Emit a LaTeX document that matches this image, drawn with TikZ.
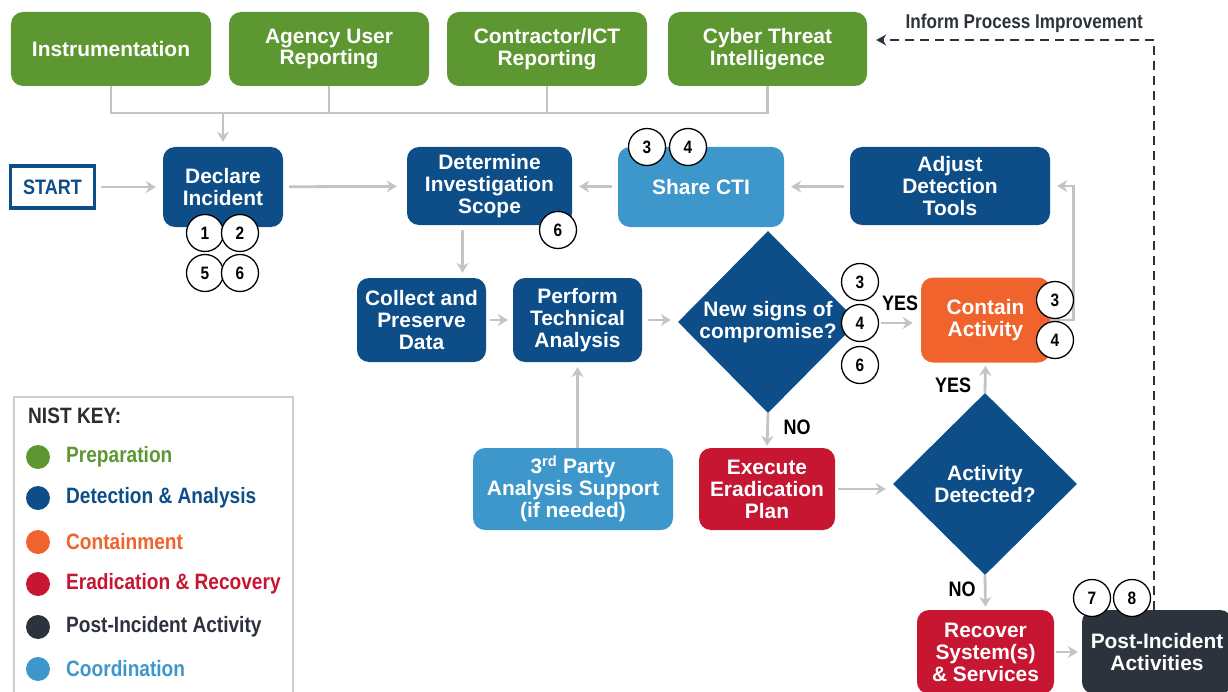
\documentclass[tikz,border=0pt]{standalone}
\usepackage{fontspec}
\setmainfont{Liberation Sans}
\newfontfamily\condbold{Liberation Sans Bold}[FakeStretch=0.86]
\usetikzlibrary{shapes.geometric,arrows.meta}
\definecolor{pgreen}{RGB}{93,151,50}
\definecolor{dblue}{RGB}{13,78,137}
\definecolor{lblue}{RGB}{62,151,202}
\definecolor{orng}{RGB}{240,99,45}
\definecolor{ered}{RGB}{198,22,50}
\definecolor{pdark}{RGB}{44,51,61}
\definecolor{conng}{RGB}{196,196,196}
\definecolor{keyborder}{RGB}{205,205,205}
\definecolor{keytext}{RGB}{45,45,45}
\newcommand\boxfnt{\bfseries\fontsize{21}{22}\selectfont}
\newcommand\condfnt{\condbold\fontsize{21}{21}\selectfont}
\newcommand\keyfnt{\condbold\fontsize{22.3}{22}\selectfont}
\begin{document}
\begin{tikzpicture}[x=1bp,y=-1bp,
  box/.style={rectangle, rounded corners=12bp, text=white, align=center, inner sep=0pt, font=\boxfnt},
  dia/.style={diamond, aspect=1, fill=dblue, text=white, align=center, inner sep=0pt, font=\boxfnt},
  num/.style={circle, draw=black, line width=1.3bp, fill=white, minimum size=37bp, inner sep=0pt, font=\condbold\fontsize{18}{18}\selectfont},
  lbl/.style={font=\condfnt, text=black, inner sep=0pt},
  conn/.style={draw=conng, line width=2.8bp},
  arr/.style={conn, -{Stealth[length=10bp,width=12bp]}, shorten >=7bp, shorten <=6bp},
  dashline/.style={draw=pdark, line width=2bp, dash pattern=on 9bp off 6bp, -{Stealth[length=10bp,width=11bp]}, shorten >=9bp},
  kdot/.style={circle, minimum size=24bp, inner sep=0pt},
  ktxt/.style={anchor=west, font=\keyfnt, inner sep=0pt}
]
\clip (0,0) rectangle (1228,692);
\useasboundingbox (0,0) rectangle (1228,692);
\fill[white] (0,0) rectangle (1228,692);

% Preparation inputs
\node[box, fill=pgreen, minimum width=200bp, minimum height=74bp] (inst) at (111,49) {Instrumentation};
\node[box, fill=pgreen, minimum width=200bp, minimum height=74bp] (agency) at (329,49) {Agency User\\Reporting};
\node[box, fill=pgreen, minimum width=200bp, minimum height=74bp] (contr) at (547,49) {Contractor/ICT\\Reporting};
\node[box, fill=pgreen, minimum width=199bp, minimum height=74bp] (cti) at (767.5,49) {Cyber Threat\\Intelligence};

% main flow
\node[draw=dblue, line width=3.5bp, fill=white, minimum width=84bp, minimum height=42bp, text=dblue, inner sep=0pt, font=\condfnt] (start) at (52.5,187) {START};
\node[box, fill=dblue, minimum width=120bp, minimum height=80bp] (declare) at (223,187) {Declare\\Incident};
\node[box, fill=dblue, minimum width=165bp, minimum height=78bp] (determine) at (489.5,186) {Determine\\Investigation\\Scope};
\node[box, fill=lblue, minimum width=166bp, minimum height=80bp] (share) at (701,187) {Share CTI};
\node[box, fill=dblue, minimum width=200bp, minimum height=78bp] (adjust) at (950,186) {Adjust\\Detection\\Tools};
\node[box, fill=dblue, minimum width=129bp, minimum height=84bp] (collect) at (421.5,320) {Collect and\\Preserve\\Data};
\node[box, fill=dblue, minimum width=129bp, minimum height=84bp] (perform) at (577.5,320) {Perform\\Technical\\Analysis};
\node[dia, minimum width=180bp, minimum height=182bp] (signs) at (768,322) {New signs of\\compromise?};
\node[box, fill=orng, minimum width=129bp, minimum height=85bp] (contain) at (985.5,320) {Contain\\Activity};
\node[box, fill=lblue, minimum width=200bp, minimum height=82bp] (third) at (573,489) {3\textsuperscript{rd} Party\\Analysis Support\\(if needed)};
\node[box, fill=ered, minimum width=136bp, minimum height=82bp] (execute) at (767,489) {Execute\\Eradication\\Plan};
\node[dia, minimum width=184bp, minimum height=182bp] (activity) at (985,484) {Activity\\Detected?};
\node[box, fill=ered, minimum width=137bp, minimum height=84bp] (recover) at (985.5,652) {Recover\\System(s)\\\& Services};
\node[box, fill=pdark, minimum width=150bp, minimum height=84bp] (post) at (1157,652) {Post-Incident\\Activities};

% connectors
\coordinate (bus) at (223,113);
\draw[conn] (inst.south) |- (cti.south |- bus) -- (cti.south);
\draw[conn] (agency.south) -- (agency.south |- bus);
\draw[conn] (contr.south) -- (contr.south |- bus);
\draw[arr, shorten <=0pt, shorten >=5bp] (bus) -- (declare.north);
\draw[arr, shorten <=5bp] (start) -- (declare);
\draw[arr, shorten >=10bp] (declare) -- (determine);
\draw[arr] (share) -- (determine);
\draw[arr] (adjust) -- (share);
\draw[arr, shorten <=5bp, shorten >=5bp] ([xshift=-27bp]determine.south) -- ([xshift=-27bp]determine.south |- collect.north);
\draw[arr, shorten <=4bp, shorten >=5bp] (collect) -- (perform);
\draw[arr] (perform.east) -- (perform.east -| signs.west);
\draw[arr, shorten <=0pt, shorten >=5bp] (perform.south |- third.north) -- (perform.south);
\draw[arr, shorten <=0pt, shorten >=2bp] (signs.south) -- (execute.north);
\draw[arr, shorten <=3bp] (execute.east) -- (execute.east -| activity.west);
\draw[arr, shorten <=0pt, shorten >=3bp] (activity.north) -- (contain.south);
\draw[arr, shorten <=0pt, shorten >=3bp] (activity.south) -- (recover.north);
\draw[arr, shorten <=2bp, shorten >=4bp] (recover.east) -- (recover.east -| post.west);
\draw[arr, shorten <=0pt] (contain.east) -| ([xshift=23bp]adjust.east) -- (adjust.east);
\coordinate (dcorner) at (1154,40);
\draw[dashline] (post.north -| dcorner) -- (dcorner) -- (cti.east |- dcorner);
\node[font=\condbold\fontsize{20}{20}\selectfont, text=pdark, anchor=east, inner sep=0pt] (inform) at (1143,23) {Inform Process Improvement};

% number circles
\node[num] (d1) at (205,233) {1};
\node[num] (d2) at (240,233) {2};
\node[num] (d5) at (205,273) {5};
\node[num] (d6) at (240,273) {6};
\node[num] (s6) at (558,230) {6};
\node[num] (sh3) at (647,147) {3};
\node[num] (sh4) at (688,147) {4};
\node[num] (n3) at (860,282) {3};
\node[num] (n4) at (860,323) {4};
\node[num] (n6) at (860,365) {6};
\node[num] (c3) at (1055,300) {3};
\node[num] (c4) at (1055,340) {4};
\node[num] (p7) at (1092,598) {7};
\node[num] (p8) at (1132,598) {8};
\draw[arr, shorten <=2bp, shorten >=8bp] (n4.east) -- (n4.east -| contain.west);

% YES / NO labels
\node[lbl] (yes1) at (900,303) {YES};
\node[lbl] (yes2) at (953,385) {YES};
\node[lbl] (no1) at (797,427) {NO};
\node[lbl] (no2) at (962,589) {NO};

% NIST key
\node[draw=keyborder, line width=1.5bp, fill=white, minimum width=279bp, minimum height=310bp, anchor=north west, inner sep=0pt] (key) at (13,396) {};
\node[ktxt, text=keytext] (ktitle) at (28,416) {NIST KEY:};
\node[kdot, fill=pgreen] (kd1) at (38,457) {};
\node[ktxt, text=pgreen] (kt1) at (66,457) {Preparation};
\node[kdot, fill=dblue] (kd2) at (38,498) {};
\node[ktxt, text=dblue] (kt2) at (66,498) {Detection \& Analysis};
\node[kdot, fill=orng] (kd3) at (38,542) {};
\node[ktxt, text=orng] (kt3) at (66,542) {Containment};
\node[kdot, fill=ered] (kd4) at (38,584) {};
\node[ktxt, text=ered] (kt4) at (66,584) {Eradication \& Recovery};
\node[kdot, fill=pdark] (kd5) at (38,627) {};
\node[ktxt, text=pdark] (kt5) at (66,627) {Post-Incident Activity};
\node[kdot, fill=lblue] (kd6) at (38,669) {};
\node[ktxt, text=lblue] (kt6) at (66,669) {Coordination};
\end{tikzpicture}
\end{document}
